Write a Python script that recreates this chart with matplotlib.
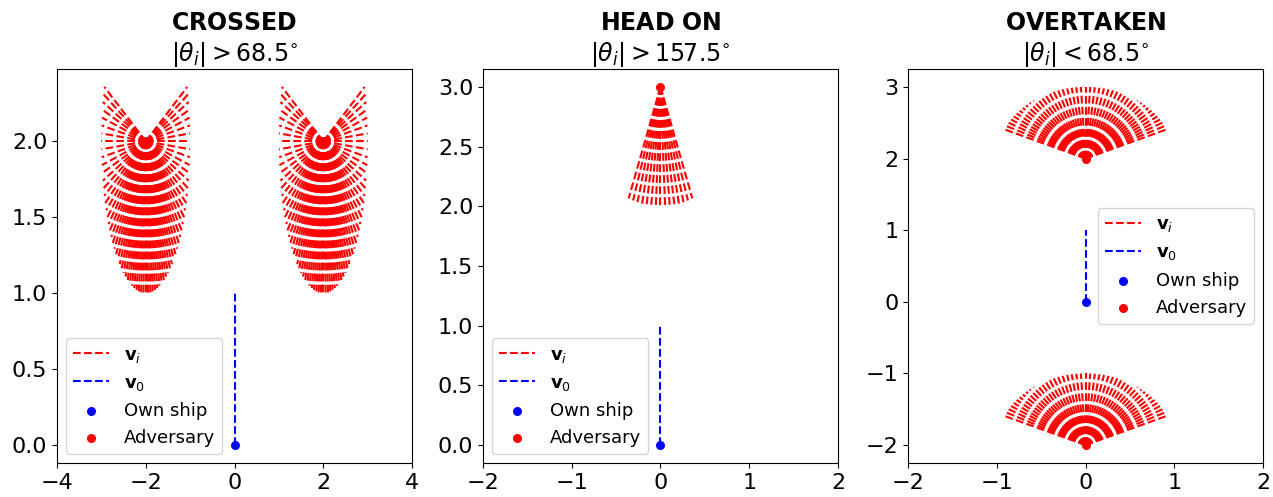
import numpy as np
import matplotlib
matplotlib.use('Agg')
import matplotlib.pyplot as plt

# Encounter definitions (heading angle measured from own ship heading, degrees)
titles = ['CROSSED', 'HEAD\\ ON', 'OVERTAKEN']
subtitles = [r'$|\theta_i| > 68.5^{\circ}$', r'$|\theta_i| > 157.5^{\circ}$', r'$|\theta_i| < 68.5^{\circ}$']
limits = [68.5, 157.5, 68.5]
greater = [True, True, False]
adversaries = [[(-2, 2), (2, 2)], [(0, 3)], [(0, 2), (0, -2)]]
xlims = [(-4, 4), (-2, 2), (-2, 2)]
xticks = [[-4, -2, 0, 2, 4], [-2, -1, 0, 1, 2], [-2, -1, 0, 1, 2]]
yticks = [[0.0, 0.5, 1.0, 1.5, 2.0], [0.0, 0.5, 1.0, 1.5, 2.0, 2.5, 3.0], [-2, -1, 0, 1, 2, 3]]
legend_loc = ['lower left', 'lower left', 'center right']

own_ship = (0, 0)
own_speed = 1.0
adv_speed = 1.0
heading_grid = np.arange(-180, 180, 3)

fig = plt.figure(figsize=(12.73, 4.97), dpi=100)
lefts = [0.0448, 0.3794, 0.7133]

for k in range(3):
    ax = fig.add_axes([lefts[k], 0.0684, 0.2789, 0.7928])
    if greater[k]:
        angles = heading_grid[np.abs(heading_grid) > limits[k]]
    else:
        angles = heading_grid[np.abs(heading_grid) < limits[k]]

    first = True
    for (ax0, ay0) in adversaries[k]:
        for a in angles:
            t = np.deg2rad(a)
            ax.plot([ax0, ax0 + adv_speed * np.sin(t)], [ay0, ay0 + adv_speed * np.cos(t)],
                    'r--', linewidth=1.5, label=r'$\mathbf{v}_i$' if first else None)
            first = False

    ax.plot([own_ship[0], own_ship[0]], [own_ship[1], own_ship[1] + own_speed], 'b--',
            linewidth=1.5, label=r'$\mathbf{v}_0$')
    ax.scatter(own_ship[0], own_ship[1], color='blue', s=30, zorder=3, label='Own ship')
    advx = [p[0] for p in adversaries[k]]
    advy = [p[1] for p in adversaries[k]]
    ax.scatter(advx, advy, color='red', s=30, zorder=3, label='Adversary')

    ax.set_xlim(*xlims[k])
    ax.set_xticks(xticks[k])
    ax.set_yticks(yticks[k])
    ax.tick_params(labelsize=16)
    ax.set_title(r'$\bf{' + titles[k] + '}$' + '\n' + subtitles[k], fontsize=17)
    ax.legend(loc=legend_loc[k], fontsize=13)

plt.savefig('out.png', dpi=100)
